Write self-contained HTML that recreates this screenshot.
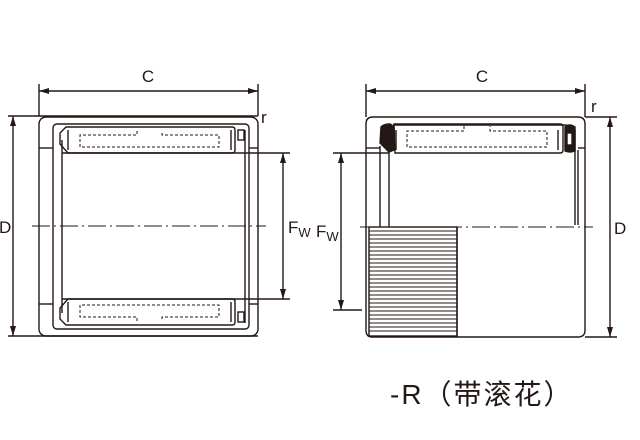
<!DOCTYPE html>
<html><head><meta charset="utf-8"><style>
html,body{margin:0;padding:0;background:#fff;width:640px;height:440px;overflow:hidden}
svg{display:block}
text{font-family:"Liberation Sans","Noto Sans CJK SC",sans-serif;fill:#231815}
</style></head><body>
<svg width="640" height="440" viewBox="0 0 640 440" fill="none" stroke="#231815" stroke-width="1.4">
<defs>
<marker id="a" markerWidth="10" markerHeight="6" refX="10" refY="3" orient="auto-start-reverse" markerUnits="userSpaceOnUse"><path d="M0,0 L10,3 L0,6 Z" fill="#231815" stroke="none"/></marker>
</defs>
<!-- LEFT -->
<line x1="39" y1="84" x2="39" y2="116"/><line x1="258" y1="84" x2="258" y2="116"/>
<line x1="39" y1="91" x2="258" y2="91" marker-start="url(#a)" marker-end="url(#a)"/>
<text x="148" y="82" font-size="17" stroke="none" text-anchor="middle">C</text>
<text x="261" y="123" font-size="17" stroke="none">r</text>
<line x1="8" y1="116" x2="258" y2="116"/><line x1="8" y1="336" x2="258" y2="336"/>
<line x1="13" y1="116" x2="13" y2="336" marker-start="url(#a)" marker-end="url(#a)"/>
<text x="-1" y="233" font-size="17" stroke="none">D</text>
<rect x="39" y="117" width="219" height="219" rx="7"/>
<rect x="53" y="124" width="196" height="205" rx="4"/>
<line x1="62" y1="140" x2="62" y2="313"/><line x1="245" y1="130" x2="245" y2="323"/>
<line x1="39" y1="148" x2="53" y2="148"/><line x1="39" y1="304" x2="53" y2="304"/>
<line x1="249" y1="148" x2="258" y2="148"/><line x1="249" y1="304" x2="258" y2="304"/>
<path d="M66,127 H232 Q235,127 235,130 V150 Q235,153 232,153 H68 L60,144 V133 Z"/>
<path d="M66,325 H232 Q235,325 235,322 V302 Q235,299 232,299 H68 L60,308 V319 Z"/>
<line x1="68" y1="130" x2="68" y2="150"/><line x1="231" y1="130" x2="231" y2="150"/>
<line x1="68" y1="302" x2="68" y2="322"/><line x1="231" y1="302" x2="231" y2="322"/>
<rect x="238" y="130" width="6" height="10"/><rect x="238" y="312" width="6" height="10"/>
<g stroke-dasharray="3,2" stroke-width="1">
<path d="M137,131 V135 H80 V147 H219 V135 H162 V131"/>
<path d="M137,321 V317 H80 V305 H219 V317 H162 V321"/>
</g>
<line x1="62" y1="153" x2="290" y2="153"/><line x1="62" y1="299" x2="290" y2="299"/>
<line x1="283" y1="153" x2="283" y2="299" marker-start="url(#a)" marker-end="url(#a)"/>
<text x="288" y="233" font-size="17" stroke="none">F<tspan font-size="13" dy="4">W</tspan></text>
<line x1="32" y1="226" x2="266" y2="226" stroke-dasharray="18,4,2,4" stroke-width="1"/>
<!-- RIGHT -->
<line x1="366" y1="84" x2="366" y2="117"/><line x1="585" y1="84" x2="585" y2="117"/>
<line x1="366" y1="91" x2="585" y2="91" marker-start="url(#a)" marker-end="url(#a)"/>
<text x="482" y="82" font-size="17" stroke="none" text-anchor="middle">C</text>
<text x="591" y="112" font-size="17" stroke="none">r</text>
<line x1="585" y1="117" x2="617" y2="117"/><line x1="585" y1="337" x2="617" y2="337"/>
<line x1="610" y1="117" x2="610" y2="337" marker-start="url(#a)" marker-end="url(#a)"/>
<text x="614" y="234" font-size="17" stroke="none">D</text>
<path d="M373,117 H578 Q585,117 585,124 V330 Q585,337 578,337 H372 Q366,337 366,330 V124 Q366,117 373,117 Z"/>
<path d="M393,125 H564 Q570,125 575,130 V225"/>
<line x1="366" y1="148" x2="380" y2="148"/><line x1="578" y1="148" x2="585" y2="148"/>
<line x1="380" y1="146" x2="380" y2="227"/><line x1="389" y1="150" x2="389" y2="227"/><line x1="578" y1="150" x2="578" y2="225"/>
<path d="M394,124 H560 Q563,124 563,127 V150 Q563,153 560,153 H395 Z"/>
<line x1="396" y1="130" x2="396" y2="150"/><line x1="558" y1="130" x2="558" y2="150"/>
<path d="M381,127 Q384,124 390,124 Q396,126 394,140 L394,150 L389,152 L380,143 Z" fill="#231815"/>
<path d="M565,127 Q569,123 575,127 V151 Q570,153 565,151 Z" fill="#231815"/>
<rect x="567" y="133" width="5" height="12" fill="#fff"/>
<g stroke-dasharray="3,2" stroke-width="1">
<path d="M464,126 V131 H407 V147 H547 V131 H490 V126"/>
</g>
<line x1="333" y1="153" x2="389" y2="153"/><line x1="333" y1="310" x2="362" y2="310"/>
<line x1="341" y1="153" x2="341" y2="310" marker-start="url(#a)" marker-end="url(#a)"/>
<text x="316" y="237" font-size="17" stroke="none">F<tspan font-size="13" dy="4">W</tspan></text>
<line x1="360" y1="227" x2="593" y2="227" stroke-dasharray="18,4,2,4" stroke-width="1"/>
<rect x="369" y="227" width="88" height="109" fill="#fff"/>
<g stroke-width="1">
<line x1="369" y1="231" x2="457" y2="231"/><line x1="369" y1="235" x2="457" y2="235"/><line x1="369" y1="239" x2="457" y2="239"/><line x1="369" y1="243" x2="457" y2="243"/><line x1="369" y1="247" x2="457" y2="247"/><line x1="369" y1="251" x2="457" y2="251"/><line x1="369" y1="255" x2="457" y2="255"/><line x1="369" y1="259" x2="457" y2="259"/><line x1="369" y1="263" x2="457" y2="263"/><line x1="369" y1="267" x2="457" y2="267"/><line x1="369" y1="271" x2="457" y2="271"/><line x1="369" y1="275" x2="457" y2="275"/><line x1="369" y1="279" x2="457" y2="279"/><line x1="369" y1="283" x2="457" y2="283"/><line x1="369" y1="287" x2="457" y2="287"/><line x1="369" y1="291" x2="457" y2="291"/><line x1="369" y1="295" x2="457" y2="295"/><line x1="369" y1="299" x2="457" y2="299"/><line x1="369" y1="303" x2="457" y2="303"/><line x1="369" y1="307" x2="457" y2="307"/><line x1="369" y1="311" x2="457" y2="311"/><line x1="369" y1="315" x2="457" y2="315"/><line x1="369" y1="319" x2="457" y2="319"/><line x1="369" y1="323" x2="457" y2="323"/><line x1="369" y1="327" x2="457" y2="327"/><line x1="369" y1="331" x2="457" y2="331"/>
</g>
<line x1="457" y1="227" x2="457" y2="337"/>
<text x="390" y="404" font-size="28" letter-spacing="2" stroke="none">-R（带滚花）</text>
</svg>
</body></html>
